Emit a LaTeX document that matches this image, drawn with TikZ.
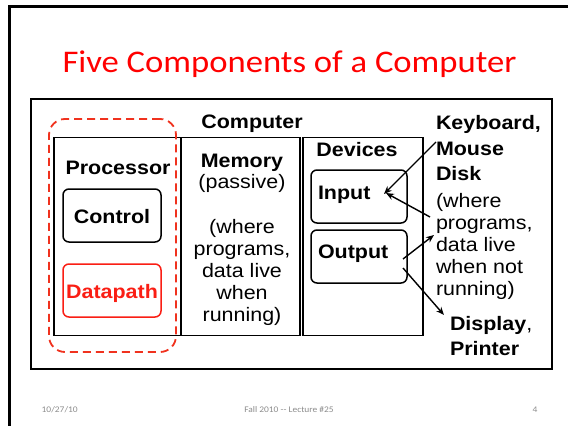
\documentclass[tikz,border=0pt]{standalone}
\usepackage{fontspec}
\setmainfont{Liberation Sans}[FakeStretch=1.1]
\newfontfamily\calfont{Carlito}[FakeStretch=1.1]
\usetikzlibrary{arrows.meta}
\definecolor{titlered}{RGB}{255,0,0}
\definecolor{dpred}{RGB}{250,30,20}
\definecolor{dashred}{RGB}{240,50,30}
\definecolor{footgray}{RGB}{140,140,140}
\tikzset{
  box/.style={draw, line width=1.5pt, inner sep=0pt, outer sep=0pt, anchor=north west},
  rbox/.style={box, rounded corners=6pt},
  lbl/.style={inner sep=0pt, outer sep=0pt, anchor=base, font=\fontsize{19.5}{22}\selectfont},
  blbl/.style={lbl, font=\fontsize{19.5}{22}\selectfont\bfseries},
  llbl/.style={lbl, anchor=base west},
  bllbl/.style={blbl, anchor=base west},
  arr/.style={line width=1.4pt, -{Stealth[length=8pt,width=6.5pt]}},
  foot/.style={inner sep=0pt, anchor=base, text=footgray, font=\calfont\fontsize{8.6}{10}\selectfont}
}
\begin{document}
\begin{tikzpicture}[x=1pt,y=-1pt]
\useasboundingbox (0,0) rectangle (568,426);
\fill[white] (0,0) rectangle (568,426);
\draw[line width=3pt] (9,430) -- (9,6.5) -- (572,6.5);
\node[inner sep=0pt, anchor=base, text=titlered, font=\calfont\fontsize{31.5}{36}\selectfont] (title) at (289.5,72) {Five Components of a Computer};
% boxes
\node[box, minimum width=521pt, minimum height=270pt] (computer) at (31,99) {};
\node[box, minimum width=127pt, minimum height=198pt] (processor) at (54,137.5) {};
\node[box, minimum width=119pt, minimum height=198pt] (memory) at (181,137.5) {};
\node[box, minimum width=120pt, minimum height=198pt] (devices) at (303,137.5) {};
\node[box, draw=dashred, dash pattern=on 8pt off 5pt, line width=1.8pt, rounded corners=16pt, minimum width=127pt, minimum height=233pt] (cpu) at (49,119) {};
\node[rbox, minimum width=98pt, minimum height=53pt] (controlbox) at (63,189) {};
\node[rbox, draw=dpred, minimum width=98pt, minimum height=53pt] (datapathbox) at (63,264) {};
\node[rbox, minimum width=96pt, minimum height=53pt] (inputbox) at (311,170) {};
\node[rbox, minimum width=96pt, minimum height=53pt] (outputbox) at (311,230) {};
% labels
\node[blbl] (lcomputer) at (252,128) {Computer};
\node[blbl] (lprocessor) at (118,174.3) {Processor};
\node[blbl] (lcontrol) at (112,223) {Control};
\node[blbl, text=dpred] (ldatapath) at (112,298) {Datapath};
\node[blbl] (lmemory) at (242,167) {Memory};
\node[lbl] (m1) at (242,188) {(passive)};
\node[lbl] (m2) at (242,233) {(where};
\node[lbl] (m3) at (242,255) {programs,};
\node[lbl] (m4) at (242,277) {data live};
\node[lbl] (m5) at (242,299) {when};
\node[lbl] (m6) at (242,321) {running)};
\node[blbl] (ldevices) at (357,156) {Devices};
\node[bllbl] (linput) at (318,199) {Input};
\node[bllbl] (loutput) at (318,258) {Output};
\node[bllbl] (kb) at (436,129) {Keyboard,};
\node[bllbl] (mouse) at (436,155) {Mouse};
\node[bllbl] (disk) at (436,180) {Disk};
\node[llbl] (d1) at (436,207) {(where};
\node[llbl] (d2) at (436,229) {programs,};
\node[llbl] (d3) at (436,251) {data live};
\node[llbl] (d4) at (436,273) {when not};
\node[llbl] (d5) at (436,295) {running)};
\node[bllbl] (display) at (450,330) {Display\textmd{,}};
\node[bllbl] (printer) at (450,355) {Printer};
% arrows
\coordinate (a1s) at (436,142);
\coordinate (a1e) at (384,194);
\coordinate (a2s) at (430,217);
\coordinate (a2e) at (386,193);
\coordinate (a3s) at (403,259);
\coordinate (a3e) at (434,235);
\coordinate (a4s) at (403,268);
\coordinate (a4e) at (444,315);
\draw[arr] (a1s) -- (a1e);
\draw[arr] (a2s) -- (a2e);
\draw[arr] (a3s) -- (a3e);
\draw[arr] (a4s) -- (a4e);
% footer
\node[foot, anchor=base west] (fdate) at (41.5,412) {10/27/10};
\node[foot] (fmid) at (289,412) {Fall 2010 -{}- Lecture \#25};
\node[foot] (fnum) at (535,412) {4};
\end{tikzpicture}
\end{document}
